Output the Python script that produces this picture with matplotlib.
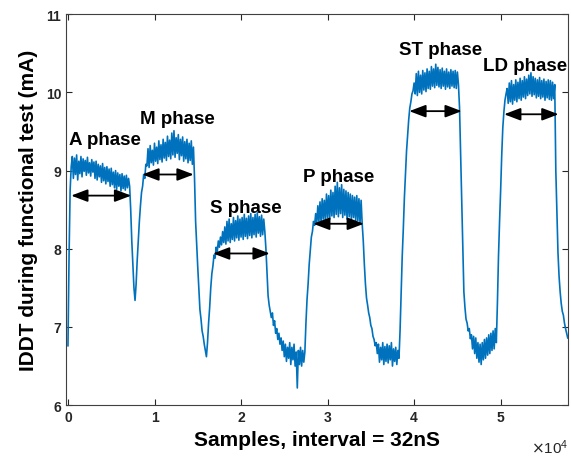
import numpy as np
import matplotlib
matplotlib.use("Agg")
import matplotlib.pyplot as plt

plt.rcParams['font.family'] = ['Liberation Sans', 'DejaVu Sans']

# IDDT trace, one value every 125 samples (mA)
sample_step = 125
a_phase = [6.76, 7.90, 8.75, 9.05, 9.18,
           8.90, 9.16, 8.95, 9.20, 8.88, 9.12, 8.96, 9.18, 8.92, 9.15, 8.99, 9.13,
           8.94, 9.17, 8.97, 9.10, 8.93, 9.14, 8.98, 9.11, 8.90, 9.12, 8.88, 9.08,
           8.92, 9.06, 8.85, 9.09, 8.87, 9.04, 8.83, 9.05, 8.86, 9.02, 8.80, 9.03,
           8.82, 8.98, 8.78, 9.00, 8.76, 8.97, 8.80, 8.95, 8.74, 8.96, 8.77, 8.93,
           8.75, 8.94, 8.78, 8.90]
dip_a_m = [8.80, 8.50, 8.10, 7.80, 7.50, 7.34, 7.55, 7.85, 8.10, 8.35, 8.55, 8.72,
           8.80, 8.95, 8.90, 9.08]
m_phase = [9.06, 9.28, 9.04, 9.32, 9.10, 9.26, 9.07, 9.35, 9.12, 9.30, 9.09, 9.38,
           9.14, 9.33, 9.11, 9.40, 9.16, 9.36, 9.13, 9.44, 9.18, 9.39, 9.15, 9.48,
           9.20, 9.51, 9.17, 9.42, 9.22, 9.46, 9.14, 9.40, 9.19, 9.43, 9.12, 9.37,
           9.15, 9.40, 9.10, 9.35, 9.13, 9.38, 9.08, 9.30]
low_m_s = [8.90, 8.35, 8.05, 7.76, 7.50, 7.22, 7.10, 6.95, 6.88, 6.78, 6.70, 6.62,
           6.80, 7.05, 7.25, 7.50, 7.68, 7.78, 7.92, 7.88, 8.02, 7.96, 8.10, 8.02,
           8.15, 8.05, 8.22, 8.08, 8.28]
s_phase = [8.06, 8.35, 8.10, 8.38, 8.08, 8.32, 8.12, 8.40, 8.10, 8.36, 8.14, 8.42,
           8.11, 8.38, 8.15, 8.40, 8.12, 8.44, 8.16, 8.39, 8.13, 8.42, 8.17, 8.45,
           8.14, 8.40, 8.18, 8.44, 8.15, 8.46, 8.20, 8.41, 8.16, 8.43, 8.18, 8.38,
           8.22]
low_s_p = [8.00, 7.70, 7.40, 7.28, 7.20, 7.12, 7.18, 7.02, 7.08, 6.92, 6.98, 6.84,
           6.92, 6.78, 6.86, 6.70, 6.82, 6.62, 6.78, 6.56, 6.74, 6.60, 6.80, 6.52,
           6.74, 6.58, 6.78, 6.50, 6.68, 6.22, 6.70, 6.52, 6.74, 6.50, 6.70, 6.55,
           6.68, 7.05, 7.35, 7.55, 7.80, 7.98, 8.15, 8.22, 8.35, 8.30, 8.45]
p_phase = [8.32, 8.55, 8.35, 8.60, 8.33, 8.64, 8.38, 8.62, 8.36, 8.70, 8.40, 8.68,
           8.38, 8.75, 8.42, 8.72, 8.40, 8.80, 8.44, 8.85, 8.41, 8.78, 8.45, 8.82,
           8.40, 8.76, 8.43, 8.74, 8.38, 8.72, 8.41, 8.70, 8.37, 8.68, 8.40, 8.66,
           8.35, 8.68, 8.36, 8.64, 8.33, 8.62, 8.32]
low_p_st = [8.10, 7.80, 7.55, 7.37, 7.28, 7.18, 7.12, 7.02, 6.98, 6.88, 6.84, 6.76,
            6.80, 6.66, 6.78, 6.55, 6.74, 6.58, 6.80, 6.52, 6.75, 6.56, 6.78, 6.54,
            6.76, 6.58, 6.80, 6.50, 6.72, 6.56, 6.74, 6.52, 6.70, 6.60, 6.95, 7.45,
            7.90, 8.25, 8.65, 8.95, 9.25, 9.45, 9.65, 9.80, 9.88, 9.98, 10.02, 10.12]
st_phase = [9.98, 10.24, 9.96, 10.27, 10.00, 10.22, 9.98, 10.28, 10.03, 10.25,
            10.01, 10.30, 10.05, 10.27, 10.04, 10.33, 10.08, 10.30, 10.06, 10.36,
            10.09, 10.32, 10.07, 10.29, 10.05, 10.31, 10.08, 10.27, 10.04, 10.30,
            10.07, 10.26, 10.05, 10.29, 10.08, 10.27, 10.06, 10.28, 10.05, 10.26,
            10.10]
low_st_ld = [9.80, 9.20, 8.65, 8.00, 7.45, 7.25, 7.10, 7.05, 6.95, 6.98, 6.85, 6.90,
             6.72, 6.88, 6.66, 6.86, 6.60, 6.80, 6.55, 6.78, 6.52, 6.80, 6.58, 6.84,
             6.60, 6.86, 6.64, 6.90, 6.66, 6.92, 6.70, 6.95, 6.72, 6.98, 6.80, 7.30,
             7.90, 8.35, 8.75, 9.20, 9.55, 9.75, 9.90, 9.98, 10.05]
ld_phase = [9.86, 10.12, 9.88, 10.15, 9.85, 10.10, 9.90, 10.16, 9.88, 10.13, 9.92,
            10.18, 9.90, 10.15, 9.94, 10.20, 9.92, 10.17, 9.96, 10.22, 9.98, 10.25,
            9.95, 10.20, 9.97, 10.18, 9.93, 10.16, 9.95, 10.19, 9.92, 10.15, 9.94,
            10.17, 9.90, 10.14, 9.93, 10.16, 9.91, 10.15, 9.90, 10.13, 9.92, 10.10]
tail = [9.00, 8.50, 7.95, 7.65, 7.45, 7.30, 7.20, 7.15, 7.05, 6.98, 6.92, 6.86]

iddt = np.array(a_phase + dip_a_m + m_phase + low_m_s + s_phase + low_s_p
                + p_phase + low_p_st + st_phase + low_st_ld + ld_phase + tail)
samples = np.arange(len(iddt)) * sample_step

# phase annotations
phase_names = ["A phase", "M phase", "S phase", "P phase", "ST phase", "LD phase"]
arrow_start = [370, 8590, 16760, 28330, 39440, 50400]
arrow_end = [7310, 14530, 23320, 34200, 45510, 56690]
arrow_y = [8.68, 8.95, 7.94, 8.32, 9.76, 9.72]
label_x = [170, 8280, 16460, 27180, 38250, 47940]
label_y = [9.40, 9.67, 8.53, 8.92, 10.55, 10.34]

fig = plt.figure(figsize=(5.71, 4.60), dpi=100)
ax = fig.add_axes([0.116, 0.117, 0.879, 0.850])

ax.plot(samples, iddt, color="#0072BD", linewidth=1.2)

for name, x0, x1, y, tx, ty in zip(phase_names, arrow_start, arrow_end, arrow_y,
                                   label_x, label_y):
    ax.annotate("", xy=(x1, y), xytext=(x0, y),
                arrowprops=dict(arrowstyle="<|-|>,head_length=1.0,head_width=0.38",
                                color="black", lw=1.3, shrinkA=0, shrinkB=0))
    ax.text(tx, ty, name, fontsize=13.5, fontweight="bold", ha="left", va="center")

ax.set_xlim(-200, 57800)
ax.set_ylim(6, 11)
ax.set_xticks([0, 10000, 20000, 30000, 40000, 50000])
ax.set_xticklabels(["0", "1", "2", "3", "4", "5"])
ax.set_yticks([6, 7, 8, 9, 10, 11])
ax.text(1.0, -0.105, r"$\times\mathregular{10^{4}}$", transform=ax.transAxes,
        ha="right", va="center", fontsize=11, color="#262626")

ax.tick_params(direction="in", top=True, right=True, length=4, width=0.8,
               colors="#262626", labelsize=10)
for lbl in ax.get_xticklabels() + ax.get_yticklabels():
    lbl.set_fontweight("bold")
for sp in ax.spines.values():
    sp.set_color("#404040")
    sp.set_linewidth(0.8)

ax.set_xlabel("Samples, interval = 32nS", fontsize=15, fontweight="bold", labelpad=4)
ax.set_ylabel("IDDT during functional test (mA)", fontsize=15, fontweight="bold",
              labelpad=6)

fig.savefig("out.png", dpi=100)
